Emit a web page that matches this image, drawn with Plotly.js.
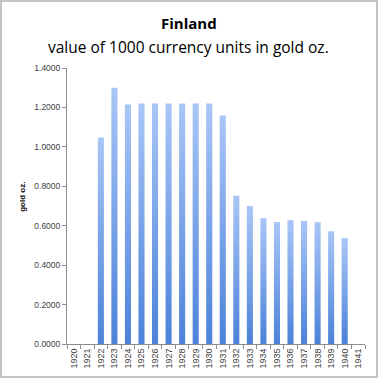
<!DOCTYPE html>
<html>
<head>
<meta charset="utf-8">
<script src="https://cdn.plot.ly/plotly-3.0.1.min.js"></script>
<style>
html,body{margin:0;padding:0;background:#fff;}
#frame{position:absolute;left:0;top:0;width:378px;height:378px;box-sizing:border-box;border:2px solid #c4c4c4;}
#chart{position:absolute;left:0;top:0;width:374px;height:374px;}
</style>
</head>
<body>
<div id="frame"><div id="chart"></div></div>
<script>
const years = ['1920','1921','1922','1923','1924','1925','1926','1927','1928','1929','1930',
  '1931','1932','1933','1934','1935','1936','1937','1938','1939','1940','1941'];
const goldOz = [null,null,1.047,1.300,1.215,1.220,1.220,1.220,1.220,1.220,1.220,
  1.159,0.752,0.700,0.638,0.619,0.628,0.624,0.618,0.572,0.537,null];
const yTicks = [0,0.2,0.4,0.6,0.8,1.0,1.2,1.4];
const titleText = 'Finland';
const subtitleText = 'value of 1000 currency units in gold oz.';

const font = 'Liberation Sans, Arial, sans-serif';
const trace = {
  type:'bar', x: years, y: goldOz,
  marker:{color:'#78a0e6', line:{width:0}},
  hoverinfo:'x+y'
};
const layout = {
  width:374, height:374,
  margin:{l:65, r:11, t:66, b:32},
  paper_bgcolor:'rgba(0,0,0,0)', plot_bgcolor:'#fff',
  bargap:0.55,
  showlegend:false,
  xaxis:{
    type:'category', tickangle:-90,
    tickfont:{family:font, size:9, color:'#404040'},
    showline:true, linecolor:'#8c8c8c', linewidth:1,
    ticks:'outside', ticklen:4, tickcolor:'#8c8c8c', tickson:'boundaries',
    showgrid:false, zeroline:false, fixedrange:true
  },
  yaxis:{
    range:[0,1.4], tickvals:yTicks,
    tickformat:'.4f',
    tickfont:{family:font, size:8.5, color:'#404040'},
    showline:true, linecolor:'#8c8c8c', linewidth:1,
    ticks:'outside', ticklen:4, tickcolor:'#8c8c8c',
    showgrid:false, zeroline:false, fixedrange:true
  },
  annotations:[
    {
      text:'<b>'+titleText+'</b>', xref:'paper', yref:'paper', x:0.409, y:1.163,
      xanchor:'center', yanchor:'middle', showarrow:false,
      font:{family:'Open Sans, sans-serif', size:15, color:'#000'}
    },
    {
      text:subtitleText, xref:'paper', yref:'paper', x:0.409, y:1.075,
      xanchor:'center', yanchor:'middle', showarrow:false,
      font:{family:'Open Sans, sans-serif', size:15.5, color:'#000'}
    },
    {
      text:'<b>gold oz.</b>', textangle:-90,
      xref:'paper', yref:'paper', x:-0.148, y:0.533,
      xanchor:'center', yanchor:'middle', showarrow:false,
      font:{family:font, size:8, color:'#000'}
    }
  ]
};
Plotly.newPlot('chart',[trace],layout,{displayModeBar:false, staticPlot:true}).then(function(gd){
  const svg = gd.querySelector('svg.main-svg');
  const ns = 'http://www.w3.org/2000/svg';
  let defs = svg.querySelector('defs');
  if(!defs){ defs = document.createElementNS(ns,'defs'); svg.insertBefore(defs, svg.firstChild); }
  const lg = document.createElementNS(ns,'linearGradient');
  lg.setAttribute('id','barGrad');
  lg.setAttribute('x1','0'); lg.setAttribute('y1','0'); lg.setAttribute('x2','0'); lg.setAttribute('y2','1');
  [['0','#a9c6f7'],['1','#4c82d9']].forEach(function(s){
    const st = document.createElementNS(ns,'stop');
    st.setAttribute('offset',s[0]); st.setAttribute('stop-color',s[1]);
    lg.appendChild(st);
  });
  defs.appendChild(lg);
  gd.querySelectorAll('.barlayer .point path').forEach(function(p){
    p.style.fill = 'url(#barGrad)';
  });
});
</script>
</body>
</html>
